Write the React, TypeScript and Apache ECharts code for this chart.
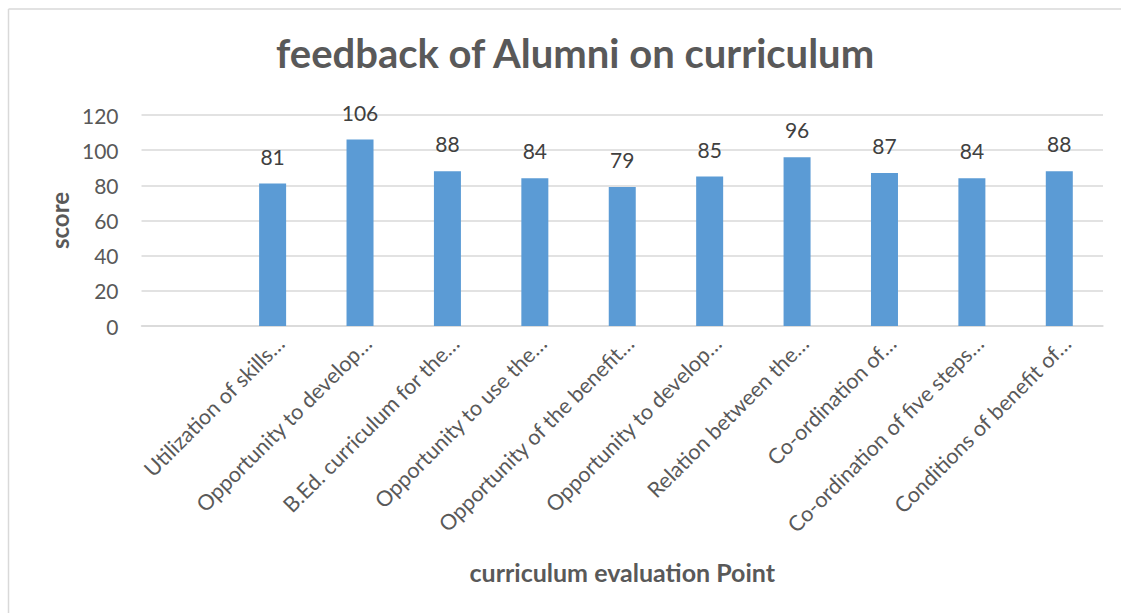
import React, { useEffect, useRef } from "react";
import * as echarts from "echarts";

const categories = [
  "",
  "Utilization of skills…",
  "Opportunity to develop…",
  "B.Ed. curriculum for the…",
  "Opportunity to use the…",
  "Opportunity of the benefit…",
  "Opportunity to develop…",
  "Relation between the…",
  "Co-ordination of…",
  "Co-ordination of five steps…",
  "Conditions of benefit of…",
];
const scores: (number | null)[] = [null, 81, 106, 88, 84, 79, 85, 96, 87, 84, 88];
const yTicks = { min: 0, max: 120, interval: 20 };

const FONT = "Lato, 'Open Sans', sans-serif";

export default function App() {
  const ref = useRef<HTMLDivElement>(null);
  useEffect(() => {
    if (!ref.current) return;
    const chart = echarts.init(ref.current, null, { renderer: "svg" });
    chart.setOption({
      animation: false,
      backgroundColor: "#ffffff",
      textStyle: { fontFamily: FONT },
      title: {
        text: "feedback of Alumni on curriculum",
        left: 271,
        top: 28,
        textStyle: { fontFamily: FONT, fontSize: 40, fontWeight: "bold", color: "#595959" },
      },
      graphic: [
        { type: "line", shape: { x1: 8.5, y1: 9, x2: 1121, y2: 9 }, style: { stroke: "#d9d9d9", lineWidth: 1.5 } },
        { type: "line", shape: { x1: 8.5, y1: 9, x2: 8.5, y2: 613 }, style: { stroke: "#d9d9d9", lineWidth: 1.5 } },
      ],
      grid: { left: 141.5, right: 18, top: 115, bottom: 287, containLabel: false },
      xAxis: {
        type: "category",
        data: categories,
        name: "curriculum evaluation Point",
        nameLocation: "middle",
        nameGap: 233,
        nameTextStyle: { fontFamily: FONT, fontSize: 25, fontWeight: "bold", color: "#595959" },
        axisLine: { lineStyle: { color: "#d9d9d9", width: 1.5 } },
        axisTick: { show: false },
        axisLabel: {
          interval: 0,
          rotate: 45,
          margin: 6,
          align: "right",
          verticalAlign: "top",
          fontFamily: FONT,
          fontSize: 21.5,
          color: "#595959",
        },
      },
      yAxis: {
        type: "value",
        min: yTicks.min,
        max: yTicks.max,
        interval: yTicks.interval,
        name: "score",
        nameLocation: "middle",
        nameGap: 70,
        nameRotate: 90,
        nameTextStyle: { fontFamily: FONT, fontSize: 24, fontWeight: "bold", color: "#595959" },
        axisLine: { show: false },
        axisTick: { show: false },
        axisLabel: { margin: 23, fontFamily: FONT, fontSize: 21, color: "#595959" },
        splitLine: { lineStyle: { color: "#d9d9d9", width: 1.5 } },
      },
      series: [
        {
          type: "bar",
          data: scores,
          barWidth: 27,
          itemStyle: { color: "#5b9bd5" },
          label: {
            show: true,
            position: "top",
            distance: 17,
            fontFamily: FONT,
            fontSize: 21,
            color: "#404040",
          },
        },
      ],
    });
    return () => chart.dispose();
  }, []);
  return (
    <div
      ref={ref}
      style={{ position: "fixed", left: 0, top: 0, width: 1121, height: 613 }}
    />
  );
}
